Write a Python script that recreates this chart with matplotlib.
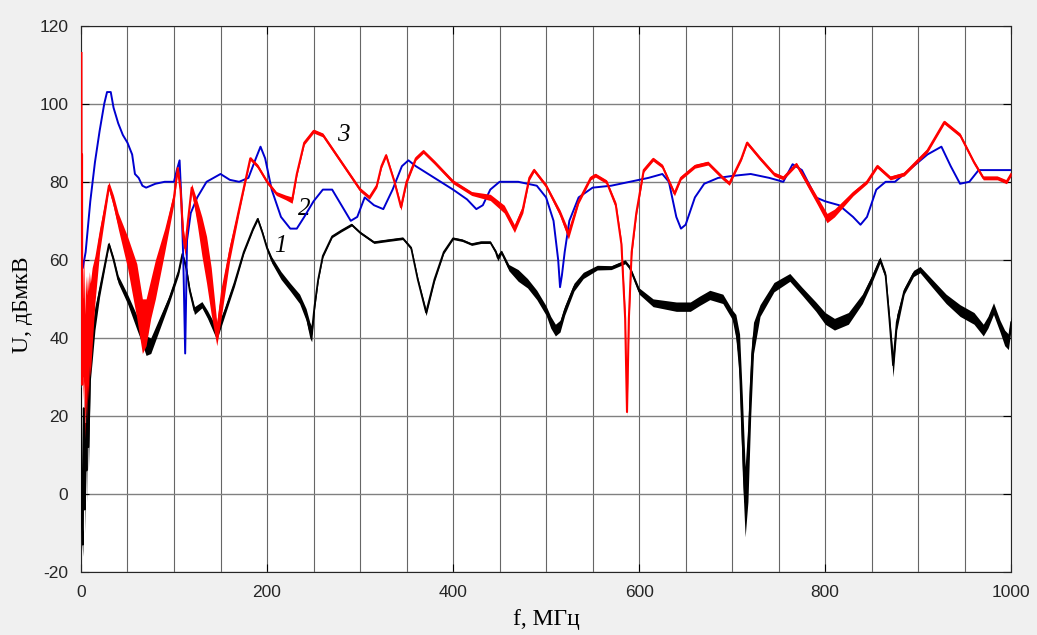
import numpy as np
import matplotlib
matplotlib.use('Agg')
import matplotlib.pyplot as plt
from matplotlib.ticker import MultipleLocator

plt.rcParams['axes.unicode_minus'] = False

# curve 1 (black): frequency, level, half width of the noise band
f1 = [0, 1, 2, 3, 4, 5, 6, 7, 8, 10, 12, 15, 20, 25, 30, 35, 40, 50, 55, 60, 65,
      70, 75, 85, 95, 105, 109, 113, 117, 122, 130, 136, 146, 155, 165, 175, 185,
      190, 195, 200, 205, 215, 225, 235, 242, 246, 248, 251, 255, 260, 270, 280,
      291, 300, 315, 330, 346, 355, 362, 371, 380, 390, 400, 410, 420, 430, 440,
      446, 448, 452, 460, 470, 480, 490, 500, 505, 510, 515, 520, 530, 540, 555,
      570, 585, 590, 600, 615, 640, 655, 665, 676, 690, 700, 704, 708, 711, 714,
      717, 720, 723, 730, 745, 762, 775, 790, 800, 810, 825, 840, 850, 859, 865,
      869, 873, 877, 885, 895, 902, 915, 930, 945, 960, 970, 975, 981, 988, 993,
      997, 1000]
u1 = [27, -8, -13, 22, -4, 18, 6, 28, 12, 34, 38, 45, 52, 58, 64, 60, 55, 50, 47, 44, 41,
      38, 38, 44, 50, 57, 61.5, 58, 52, 47, 48.5, 46, 41, 47, 54, 62, 68,
      70.5, 67, 63, 60, 56, 53, 50, 46, 42, 41, 48, 55, 61, 66, 67.5,
      69, 67, 64.5, 65, 65.5, 63, 55, 46.5, 55, 62, 65.5, 65, 64, 64.5, 64.5,
      62, 60.5, 62, 58, 56, 54, 51, 47, 44, 42, 43, 47, 53, 56, 58,
      58, 59.5, 58, 52, 49, 48, 48, 49.5, 51, 50, 46, 43, 35, 15, -2,
      8, 28, 40, 47, 53, 55.5, 52, 48, 45, 43.5, 45, 50, 55, 60, 56,
      45, 33, 44, 52, 56.5, 57.5, 54, 50, 47, 45, 42, 44, 47.5, 43, 40,
      39, 44]
s1 = [2, 4, 3, 4, 6, 8, 8, 6, 6, 5, 4, 3, 1.5, 1, 0.6, 0.8, 1, 1.2, 1.5, 1.8, 2,
      2.5, 2, 1.5, 1, 0.8, 0.5, 0.8, 0.8, 1, 0.8, 1, 1.5, 1, 0.8, 0.5, 0.4,
      0.4, 0.5, 0.5, 0.8, 1, 1, 1.2, 1.5, 2, 2, 1, 0.5, 0.4, 0.3, 0.3,
      0.3, 0.3, 0.3, 0.3, 0.3, 0.4, 0.6, 0.8, 0.6, 0.4, 0.3, 0.3, 0.3, 0.3, 0.3,
      0.5, 0.8, 0.5, 0.8, 1.5, 1.2, 1.2, 1.2, 1.5, 1.5, 1.5, 1.2, 1, 0.8, 0.6,
      0.5, 0.5, 0.5, 0.8, 1, 1.2, 1.2, 1.2, 1.2, 1.2, 1.2, 3, 6, 10, 9,
      10, 8, 4, 1.5, 1.2, 1, 1, 1.2, 1.5, 1.5, 1.5, 1.2, 1, 0.8, 0.8,
      1.5, 3, 2, 0.8, 0.8, 0.8, 1, 1.2, 1.5, 1.5, 1.5, 1.5, 1.5, 1.5, 2,
      2, 1.5]

# curve 2 (blue)
f2 = [2, 5, 10, 15, 20, 25, 28, 32, 35, 40, 45, 50, 55, 58, 62, 66, 70, 80, 90,
      100, 103, 106, 108, 110, 112, 113, 114, 118, 125, 135, 150, 160, 170, 180,
      188, 193, 198, 205, 215, 225, 232, 240, 250, 260, 270, 280, 290, 297, 305,
      315, 325, 335, 345, 352, 360, 380, 400, 415, 425, 432, 440, 450, 470, 490,
      500, 508, 513, 515, 517, 520, 525, 535, 550, 570, 590, 610, 625, 632, 640,
      645, 650, 660, 670, 685, 700, 720, 740, 755, 765, 775, 790, 800, 815, 830,
      838, 845, 855, 865, 875, 890, 910, 925, 935, 945, 955, 965, 980, 1000]
u2 = [58, 62, 75, 85, 93, 100, 103, 103, 99, 95, 92, 90, 87, 82, 81, 79, 78.5, 79.5, 80,
      80, 83, 85.5, 75, 60, 36, 50, 65, 72, 76, 80, 82, 80.5, 80, 81,
      86, 89, 86, 78, 71, 68, 68, 71, 75, 78, 78, 74, 70, 71, 76,
      74, 73, 78, 84, 85.5, 84, 81, 78, 75.5, 73, 74, 78, 80, 80, 79,
      76, 70, 60, 53, 56, 62, 70, 76, 78.5, 79, 80, 81, 82, 80, 71,
      68, 69, 76, 79.5, 81, 81.5, 82, 81, 80, 84.5, 83, 76, 75, 74, 71,
      69, 71, 78, 80, 80, 83, 87, 89, 84, 79.5, 80, 83, 83, 83]

# curve 3 (red)
f3 = [0.5, 0.8, 1.1, 1.4, 1.7, 2.2, 3, 4, 5, 6, 7, 8, 9, 10, 12, 15, 20, 25, 30, 35,
      40, 50, 60, 66, 70, 75, 80, 90, 100, 104, 107, 110, 112, 115, 119, 125, 130,
      135, 140, 146, 150, 160, 170, 182, 190, 200, 210, 220, 227, 232, 240, 250,
      260, 280, 300, 310, 318, 323, 328, 337, 344, 350, 360, 368, 380, 400, 420,
      440, 455, 466, 475, 482, 487, 500, 515, 524, 535, 548, 553, 565, 575, 581,
      585, 587, 589, 592, 597, 605, 615, 625, 638, 645, 660, 674, 690, 697, 710,
      716, 730, 745, 755, 769, 780, 792, 802, 810, 830, 845, 856, 870, 885, 910,
      928, 945, 960, 970, 985, 995, 1000]
u3 = [113, 35, 87, 28, 50, 40, 45, 30, 40, 35, 42, 38, 45, 42, 48, 55, 65, 72, 79, 75,
      70, 62, 52, 43, 44, 50, 55, 65, 76, 83.5, 78, 66, 63, 70, 78.5, 72, 66,
      60, 52, 41, 48, 62, 73, 86, 84, 80, 77, 76, 75.3, 82, 90, 93,
      92, 85, 78, 76, 79, 84, 86.8, 80, 73.5, 80, 86, 87.8, 85, 80, 77,
      76, 73, 68, 73, 81, 83, 79, 72, 66.5, 75, 81, 81.7, 80, 74, 64,
      45, 21, 45, 62, 72, 83, 85.8, 84, 77, 81, 84, 84.8, 81, 79.6, 86,
      90, 86, 82, 81, 84.5, 80, 75, 70.7, 72, 77, 80, 84, 81, 82, 88,
      95.3, 92, 85, 81, 81, 80, 82]
s3 = [0, 0, 0, 0, 0, 16, 16, 16, 16, 16, 14, 14, 12, 12, 10, 6, 3, 2, 1, 1.5,
      2, 4, 7, 7, 6, 5, 5, 3, 1.5, 0.5, 1, 2, 2, 1, 1, 3, 5,
      6, 6, 3, 4, 2, 1, 0.5, 0.5, 0.5, 0.5, 0.6, 0.8, 0.6, 0.5, 0.5,
      0.5, 0.5, 0.5, 0.5, 0.5, 0.5, 0.5, 0.5, 0.8, 0.6, 0.5, 0.5, 0.5, 0.5, 0.5,
      0.8, 1, 1, 1, 0.6, 0.5, 0.5, 0.8, 1.2, 0.6, 0.5, 0.5, 0.5, 0.8, 1,
      2, 1, 2, 1, 0.8, 0.5, 0.5, 0.5, 0.6, 0.5, 0.5, 0.5, 0.5, 0.5, 0.5,
      0.5, 0.5, 0.5, 0.5, 0.5, 0.8, 1, 1.2, 1, 0.6, 0.5, 0.5, 0.5, 0.5, 0.5,
      0.5, 0.5, 0.5, 0.5, 0.5, 0.5, 0.5]

serif = ['Liberation Serif', 'DejaVu Serif']
sans = ['Liberation Sans', 'DejaVu Sans']

fig = plt.figure(figsize=(10.37, 6.35), dpi=100, facecolor='#f0f0f0')
ax = fig.add_axes([0.0781, 0.0992, 0.897, 0.8603])
ax.set_facecolor('white')

a1 = np.array(u1); d1 = np.array(s1)
a3 = np.array(u3); d3 = np.array(s3)

ax.fill_between(f1, a1 - d1, a1 + d1, color='black', lw=0, zorder=3)
ax.plot(f1, u1, color='black', lw=1.3, zorder=3)
ax.plot(f2, u2, color='#0000d0', lw=1.4, zorder=4)
ax.fill_between(f3, a3 - d3, a3 + d3, color='#ff0000', lw=0, zorder=5)
ax.plot(f3, u3, color='#ff0000', lw=1.5, zorder=5)

ax.set_xlim(0, 1000)
ax.set_ylim(-20, 120)
ax.xaxis.set_major_locator(MultipleLocator(200))
ax.xaxis.set_minor_locator(MultipleLocator(50))
ax.yaxis.set_major_locator(MultipleLocator(20))
ax.grid(which='both', axis='x', color='#666666', lw=0.8)
ax.grid(which='major', axis='y', color='#808080', lw=1.0)
ax.set_axisbelow(True)
ax.tick_params(which='major', direction='in', length=6, top=True, right=True,
               labelsize=12.5, labelcolor='#262626', pad=9)
ax.tick_params(which='minor', length=0)
for lab in ax.get_xticklabels() + ax.get_yticklabels():
    lab.set_family(sans)
for sp in ax.spines.values():
    sp.set_color('#262626')
    sp.set_linewidth(0.8)

ax.set_xlabel('f, МГц', family=serif, fontsize=17, labelpad=7)
ax.set_ylabel('U, дБмкВ', family=serif, fontsize=17)
ax.yaxis.set_label_coords(-0.052, 0.49)

ax.text(214, 63.5, '1', family=serif, style='italic', fontsize=18, ha='center', va='center')
ax.text(240, 73, '2', family=serif, style='italic', fontsize=18, ha='center', va='center')
ax.text(282, 92, '3', family=serif, style='italic', fontsize=18, ha='center', va='center')

plt.savefig('out.png', dpi=100, facecolor=fig.get_facecolor())
